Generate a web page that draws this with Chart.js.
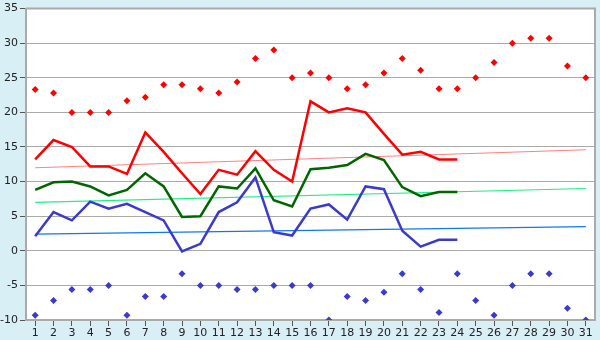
<!DOCTYPE html>
<html>
<head>
<meta charset="utf-8">
<script src="https://cdn.jsdelivr.net/npm/chart.js@4"></script>
<style>
  html, body { margin: 0; padding: 0; background: #d9eff6; }
  #wrap { width: 600px; height: 340px; }
</style>
</head>
<body>
<div id="wrap"><canvas id="tempChart" width="600" height="340"></canvas></div>
<script>
// Daily temperatures for the month
const days = Array.from({ length: 31 }, (_, i) => String(i + 1));

const tempMax = [13.2, 16.0, 15.0, 12.2, 12.2, 11.1, 17.1, 14.3, 11.2, 8.2, 11.7, 11.0,
                 14.4, 11.7, 10.0, 21.6, 20.0, 20.6, 20.0, 16.9, 13.9, 14.3, 13.2, 13.2];
const tempMean = [8.8, 9.9, 10.0, 9.3, 8.0, 8.8, 11.2, 9.3, 4.9, 5.0, 9.3, 9.0,
                  11.9, 7.3, 6.4, 11.8, 12.0, 12.4, 14.0, 13.1, 9.2, 7.9, 8.5, 8.5];
const tempMin = [2.1, 5.6, 4.4, 7.1, 6.1, 6.8, 5.6, 4.4, -0.1, 1.0, 5.6, 7.0,
                 10.6, 2.7, 2.2, 6.1, 6.7, 4.5, 9.3, 8.9, 2.9, 0.6, 1.6, 1.6];

// Record highs / lows per day
const recordMax = [23.3, 22.8, 20.0, 20.0, 20.0, 21.7, 22.2, 24.0, 24.0, 23.4, 22.8, 24.4,
                   27.8, 29.0, 25.0, 25.7, 25.0, 23.4, 24.0, 25.7, 27.8, 26.1, 23.4, 23.4,
                   25.0, 27.2, 30.0, 30.7, 30.7, 26.7, 25.0];
const recordMin = [-9.3, -7.2, -5.6, -5.6, -5.0, -9.3, -6.6, -6.6, -3.3, -5.0, -5.0, -5.6,
                   -5.6, -5.0, -5.0, -5.0, -10.0, -6.6, -7.2, -6.0, -3.3, -5.6, -8.9, -3.3,
                   -7.2, -9.3, -5.0, -3.3, -3.3, -8.3, -10.0];

// Normal values at the first and last day of the month
const normalMax = [12.0, 14.6];
const normalMean = [7.0, 9.0];
const normalMin = [2.4, 3.5];

const yTicks = [-10, -5, 0, 5, 10, 15, 20, 25, 30, 35];

function trend(values) {
    return [{ x: days[0], y: values[0] }, { x: days[days.length - 1], y: values[1] }];
}

// white plot area on the blue background
const plotBackground = {
    id: 'plotBackground',
    beforeDraw(chart) {
        const { ctx, chartArea: a } = chart;
        ctx.save();
        ctx.fillStyle = '#ffffff';
        ctx.fillRect(a.left, a.top, a.right - a.left, a.bottom - a.top);
        ctx.restore();
    },
    afterDatasetsDraw(chart) {
        const { ctx, chartArea: a } = chart;
        ctx.save();
        ctx.strokeStyle = '#aaaaaa';
        ctx.lineWidth = 2;
        ctx.beginPath();
        ctx.moveTo(a.left, a.top);
        ctx.lineTo(a.right, a.top);
        ctx.lineTo(a.right, a.bottom);
        ctx.stroke();
        ctx.restore();
    }
};

const lineStyle = (color) => ({
    borderColor: color,
    backgroundColor: color,
    borderWidth: 2.5,
    pointRadius: 0,
    tension: 0,
    fill: false
});

const recordStyle = (color) => ({
    showLine: false,
    pointStyle: 'rectRot',
    pointRadius: 3.5,
    pointBorderWidth: 0,
    pointBackgroundColor: color,
    borderColor: color,
    backgroundColor: color
});

const trendStyle = (color) => ({
    borderColor: color,
    borderWidth: 1.2,
    pointRadius: 0,
    tension: 0,
    fill: false
});

new Chart(document.getElementById('tempChart').getContext('2d'), {
    type: 'line',
    data: {
        labels: days,
        datasets: [
            { label: 'Max', data: tempMax, ...lineStyle('#ff0000'), order: 1 },
            { label: 'Moyenne', data: tempMean, ...lineStyle('#006600'), order: 1 },
            { label: 'Min', data: tempMin, ...lineStyle('#3a3acc'), order: 1 },
            { label: 'Record max', data: recordMax, ...recordStyle('#ff0000'), order: 0 },
            { label: 'Record min', data: recordMin, ...recordStyle('#3a3acc'), order: 0 },
            { label: 'Normale max', data: trend(normalMax), ...trendStyle('#ff8080'), order: 2 },
            { label: 'Normale moy', data: trend(normalMean), ...trendStyle('#22ee88'), order: 2 },
            { label: 'Normale min', data: trend(normalMin), ...trendStyle('#1177ee'), order: 2 }
        ]
    },
    options: {
        responsive: false,
        animation: false,
        layout: { padding: { top: 5, right: 5, left: 0, bottom: 0 } },
        plugins: {
            legend: { display: false },
            tooltip: { enabled: false }
        },
        scales: {
            x: {
                type: 'category',
                offset: true,
                grid: {
                    display: true,
                    drawOnChartArea: false,
                    drawTicks: true,
                    tickLength: 6,
                    offset: false,
                    color: '#555555'
                },
                border: { color: '#aaaaaa', width: 2 },
                ticks: {
                    color: '#222222',
                    font: { family: 'DejaVu Sans', size: 11 },
                    padding: 1,
                    maxRotation: 0,
                    autoSkip: false
                },
                afterFit(scale) { scale.height = 20; }
            },
            y: {
                min: -10,
                max: 35,
                afterBuildTicks(scale) { scale.ticks = yTicks.map(v => ({ value: v })); },
                grid: {
                    color: '#aaaaaa',
                    lineWidth: 1,
                    tickLength: 6,
                    tickColor: '#555555'
                },
                border: { color: '#aaaaaa', width: 2 },
                ticks: {
                    color: '#222222',
                    font: { family: 'DejaVu Sans', size: 11 },
                    padding: 2
                },
                afterFit(scale) { scale.width = 26; }
            }
        }
    },
    plugins: [plotBackground]
});
</script>
</body>
</html>
